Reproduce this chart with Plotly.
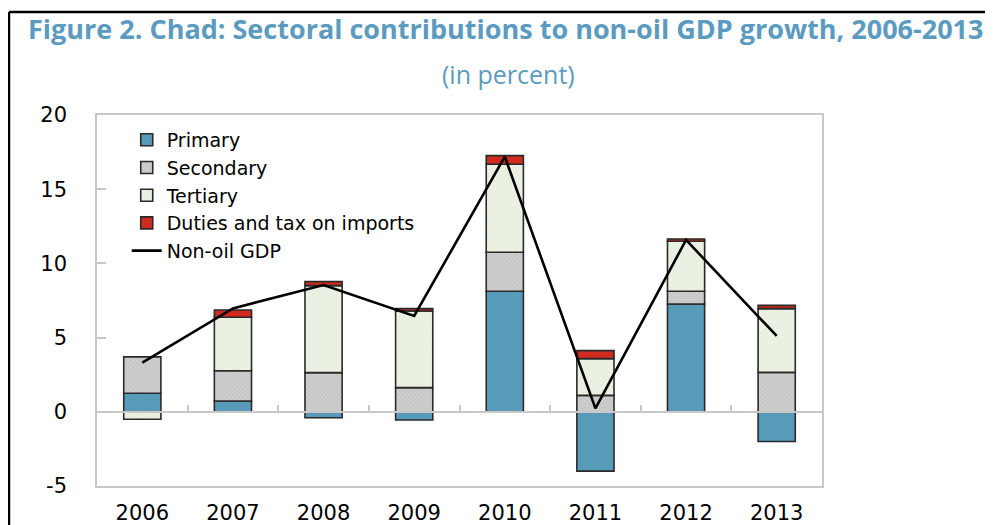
import plotly.graph_objects as go

years = ["2006", "2007", "2008", "2009", "2010", "2011", "2012", "2013"]
primary = [1.25, 0.73, -0.40, -0.55, 8.12, -4.00, 7.26, -2.00]
secondary = [2.46, 2.04, 2.64, 1.63, 2.63, 1.11, 0.86, 2.66]
tertiary = [-0.50, 3.60, 5.86, 5.16, 5.93, 2.47, 3.37, 4.29]
duties = [0.00, 0.49, 0.27, 0.16, 0.58, 0.54, 0.15, 0.22]
non_oil_gdp = [3.31, 6.97, 8.54, 6.46, 17.19, 0.23, 11.58, 5.11]

y_tick_vals = [-5, 0, 5, 10, 15, 20]
y_tick_text = ["-5", "0", "5", "10", "15", "20"]

title_color = "#5B9BBF"
outline = dict(color="#2a2a2a", width=1.6)
tick_font = dict(family="DejaVu Sans, sans-serif", size=21, color="black")

fig = go.Figure()
fig.add_bar(x=years, y=primary, name="Primary",
            marker=dict(color="#589BB9", line=outline))
fig.add_bar(x=years, y=secondary, name="Secondary",
            marker=dict(color="#CFCFCF", line=outline,
                        pattern=dict(shape="x", size=3, solidity=0.25, fgcolor="#9a9a9a")))
fig.add_bar(x=years, y=tertiary, name="Tertiary",
            marker=dict(color="#EBF1E3", line=outline,
                        pattern=dict(shape="/", size=4, solidity=0.15, fgcolor="#d3dcc8")))
fig.add_bar(x=years, y=duties, name="Duties and tax on imports",
            marker=dict(color="#D12A1E", line=outline))
fig.add_scatter(x=years, y=non_oil_gdp, name="Non-oil GDP", mode="lines",
                line=dict(color="black", width=2.6), xaxis="x2")

frame = dict(color="black", width=2.5)
fig.update_layout(
    width=985, height=517,
    barmode="relative", bargap=0.59,
    paper_bgcolor="white", plot_bgcolor="white",
    margin=dict(l=89, r=171, t=107, b=39, autoexpand=False),
    font=dict(family="DejaVu Sans, sans-serif", size=19, color="black"),
    showlegend=True,
    legend=dict(x=0.041, y=0.984, xanchor="left", yanchor="top",
                bgcolor="rgba(0,0,0,0)", font=dict(family="DejaVu Sans, sans-serif", size=19),
                tracegroupgap=0, itemwidth=30),
    xaxis=dict(type="category", categoryorder="array", categoryarray=years,
               showline=True, linecolor="#c8c8c8", linewidth=1.5, mirror=True,
               ticks="", showgrid=False, tickfont=tick_font, ticklabelstandoff=7,
               automargin=False),
    xaxis2=dict(type="category", categoryorder="array", categoryarray=years,
                overlaying="x", matches="x", anchor="free", position=0.2,
                showline=True, linecolor="#c8c8c8", linewidth=1.5,
                ticks="inside", tickson="boundaries", ticklen=6,
                tickcolor="#c8c8c8", tickwidth=1.5,
                showticklabels=False, showgrid=False, automargin=False),
    yaxis=dict(range=[-5, 20], tickmode="array", tickvals=y_tick_vals, ticktext=y_tick_text,
               showline=True, linecolor="#c8c8c8",
               linewidth=1.5, mirror=True, ticks="inside", ticklen=9,
               tickcolor="#c8c8c8", tickwidth=1.5, showgrid=False,
               zeroline=False, tickfont=tick_font, ticklabelstandoff=24,
               automargin=False),
    shapes=[
        dict(type="line", xref="paper", yref="paper", layer="above",
             x0=-0.1214, x1=1.2317, y0=1.2776, y1=1.2776, line=frame),
        dict(type="line", xref="paper", yref="paper", layer="above",
             x0=-0.1214, x1=-0.1214, y0=-0.11, y1=1.2776, line=frame),
        dict(type="line", xref="paper", yref="paper", layer="above",
             x0=1.2317, x1=1.2317, y0=-0.11, y1=1.2776, line=frame),
    ],
    annotations=[
        dict(text="<b>Figure 2. Chad: Sectoral contributions to non-oil GDP growth, 2006-2013</b>",
             xref="paper", yref="paper", x=0.563, y=1.232, xanchor="center", yanchor="middle",
             showarrow=False, font=dict(family="Open Sans, sans-serif", size=27, color=title_color)),
        dict(text="(in percent)",
             xref="paper", yref="paper", x=0.568, y=1.11, xanchor="center", yanchor="middle",
             showarrow=False, font=dict(family="Open Sans, sans-serif", size=25, color=title_color)),
    ],
)

fig.write_html("out.html")
